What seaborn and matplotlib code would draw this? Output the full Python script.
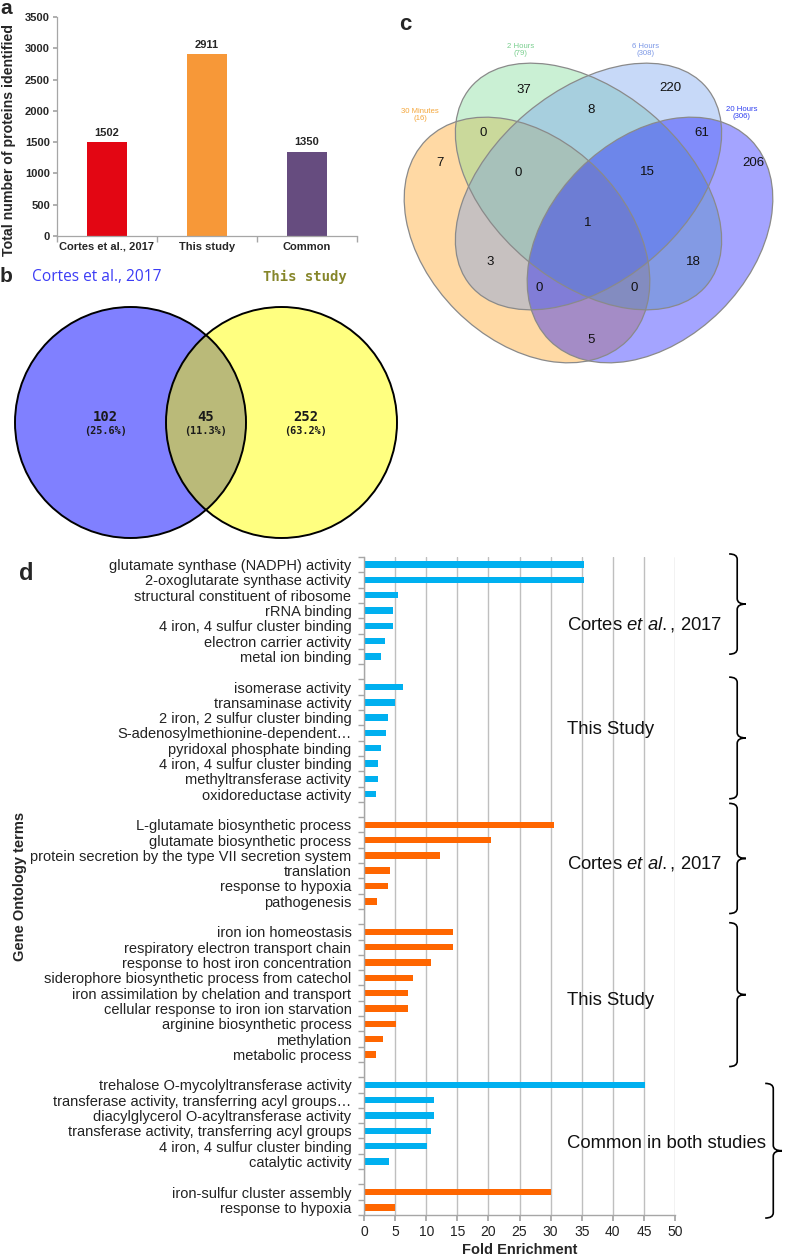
import numpy as np
import pandas as pd
import matplotlib
matplotlib.use("Agg")
import matplotlib.pyplot as plt
import matplotlib.patches as mpatches
from matplotlib.path import Path
import seaborn as sns

# ---------------- data ----------------
# panel a
a_categories = ["Cortes et al., 2017", "This study", "Common"]
a_values = [1502, 2911, 1350]
a_colors = ["#E30613", "#F79838", "#664C7F"]

# panel b
b_set_names = ["Cortes et al., 2017", "This study"]
b_counts = [102, 45, 252]
b_percents = [25.6, 11.3, 63.2]

# panel c
c_set_names = ["30 Minutes", "2 Hours", "6 Hours", "20 Hours"]
c_set_totals = [16, 79, 308, 306]
c_regions = ["A", "B", "C", "D", "AB", "BC", "CD", "ABC", "BCD", "ABCD",
             "AC", "BD", "ACD", "ABD", "AD"]
c_counts = [7, 37, 220, 206, 0, 8, 61, 0, 15, 1, 3, 18, 0, 0, 5]

# panel d
d_mf_cortes_terms = ["glutamate synthase (NADPH) activity", "2-oxoglutarate synthase activity",
                     "structural constituent of ribosome", "rRNA binding",
                     "4 iron, 4 sulfur cluster binding", "electron carrier activity",
                     "metal ion binding"]
d_mf_cortes_values = [35.4, 35.4, 5.5, 4.6, 4.6, 3.4, 2.7]
d_mf_this_terms = ["isomerase activity", "transaminase activity", "2 iron, 2 sulfur cluster binding",
                   "S-adenosylmethionine-dependent\u2026", "pyridoxal phosphate binding",
                   "4 iron, 4 sulfur cluster binding", "methyltransferase activity",
                   "oxidoreductase activity"]
d_mf_this_values = [6.2, 5.0, 3.8, 3.6, 2.8, 2.2, 2.2, 1.9]
d_bp_cortes_terms = ["L-glutamate biosynthetic process", "glutamate biosynthetic process",
                     "protein secretion by the type VII secretion system", "translation",
                     "response to hypoxia", "pathogenesis"]
d_bp_cortes_values = [30.5, 20.4, 12.2, 4.1, 3.8, 2.1]
d_bp_this_terms = ["iron ion homeostasis", "respiratory electron transport chain",
                   "response to host iron concentration",
                   "siderophore biosynthetic process from catechol",
                   "iron assimilation by chelation and transport",
                   "cellular response to iron ion starvation", "arginine biosynthetic process",
                   "methylation", "metabolic process"]
d_bp_this_values = [14.3, 14.3, 10.7, 7.9, 7.1, 7.1, 5.1, 3.1, 1.9]
d_mf_common_terms = ["trehalose O-mycolyltransferase activity",
                     "transferase activity, transferring acyl groups\u2026",
                     "diacylglycerol O-acyltransferase activity",
                     "transferase activity, transferring acyl groups",
                     "4 iron, 4 sulfur cluster binding", "catalytic activity"]
d_mf_common_values = [45.1, 11.3, 11.3, 10.8, 10.1, 4.0]
d_bp_common_terms = ["iron-sulfur cluster assembly", "response to hypoxia"]
d_bp_common_values = [30.0, 5.0]
d_group_labels = [r"Cortes $\it{et\ al.}$, 2017", "This Study",
                  r"Cortes $\it{et\ al.}$, 2017", "This Study", "Common in both studies"]

# ---------------- style ----------------
sns.set_theme(style="white")
plt.rcParams["font.family"] = ["Liberation Sans", "DejaVu Sans"]
plt.rcParams["mathtext.fontset"] = "custom"
plt.rcParams["mathtext.rm"] = "Liberation Sans"
plt.rcParams["mathtext.it"] = "Liberation Sans:italic"

W, H = 788, 1258
fig = plt.figure(figsize=(W / 100, H / 100), dpi=100)


def px_axes(x0, y0, x1, y1):
    return fig.add_axes([x0 / W, 1 - y1 / H, (x1 - x0) / W, (y1 - y0) / H])


ov = fig.add_axes([0, 0, 1, 1])
ov.set_xlim(0, W)
ov.set_ylim(H, 0)
ov.axis("off")

GREY = "#A6A6A6"

# ---------------- panel a ----------------
ax_a = px_axes(57, 17, 357, 236)
df_a = pd.DataFrame({"study": a_categories, "n": a_values})
sns.barplot(data=df_a, x="study", y="n", hue="study", palette=a_colors, width=0.4,
            saturation=1, legend=False, linewidth=0, ax=ax_a)
ax_a.set_ylim(0, 3500)
ax_a.set_xlim(-0.5, 2.5)
ax_a.set_yticks(range(0, 3501, 500))
for c in ax_a.containers:
    ax_a.bar_label(c, fmt="%d", padding=3, fontsize=8, fontweight="bold")
sns.despine(ax=ax_a)
for s in ["left", "bottom"]:
    ax_a.spines[s].set_color(GREY)
    ax_a.spines[s].set_linewidth(0.9)
ax_a.tick_params(axis="y", length=3, color=GREY, labelsize=8, pad=2, left=True)
ax_a.tick_params(axis="x", which="major", length=0, labelsize=8, pad=4)
ax_a.set_xticks([-0.5, 0.5, 1.5, 2.5], minor=True)
ax_a.tick_params(axis="x", which="minor", length=4, color=GREY, bottom=True)
for t in ax_a.get_xticklabels() + ax_a.get_yticklabels():
    t.set_fontweight("bold")
ax_a.set_xlabel("")
ax_a.set_ylabel("Total number of proteins identified", fontsize=10.2, fontweight="bold")
ax_a.yaxis.set_label_coords(-0.135, 0.44)

# ---------------- panel b ----------------
r = 115.5
lc, rc = (130.5, 422.5), (281.5, 422.5)
ov.add_patch(mpatches.Circle(lc, r, fc="#8080FF", ec="none"))
ov.add_patch(mpatches.Circle(rc, r, fc="#FFFF80", ec="none"))
overlap = mpatches.Circle(rc, r, fc="#BABA79", ec="none")
ov.add_patch(overlap)
clip = mpatches.Circle(lc, r, transform=ov.transData)
overlap.set_clip_path(clip)
ov.add_patch(mpatches.Circle(lc, r, fill=False, ec="black", lw=1.4))
ov.add_patch(mpatches.Circle(rc, r, fill=False, ec="black", lw=1.4))
b_xpos = [105.5, 205.5, 306]
for x, n, p in zip(b_xpos, b_counts, b_percents):
    ov.text(x, 417, f"{n}", ha="center", va="center", fontsize=10,
            fontweight="bold", family="DejaVu Sans Mono", color="#1a1a1a")
    ov.text(x, 430.5, f"({p:.1f}%)", ha="center", va="center", fontsize=7.3,
            fontweight="bold", family="DejaVu Sans Mono", color="#1a1a1a")
ov.text(32, 277, b_set_names[0], ha="left", va="center", fontsize=11.2,
        family="Open Sans", color="#3C3CF5")
ov.text(263, 277, b_set_names[1], ha="left", va="center", fontsize=10,
        family="DejaVu Sans Mono", fontweight="bold", color="#86862A")

# ---------------- panel c ----------------
c_geom = [(527, 240, 284, 200, 45), (588.5, 186.5, 308, 192, 40),
          (588.5, 186.5, 308, 192, -40), (650, 240, 284, 200, -45)]
c_fills = ["#FF9D11", "#75D98E", "#6E9BEF", "#1010FF"]
for (cx, cy, w, h, ang), fc in zip(c_geom, c_fills):
    ov.add_patch(mpatches.Ellipse((cx, cy), w, h, angle=ang, fc=fc, alpha=0.38, ec="none"))
for (cx, cy, w, h, ang) in c_geom:
    ov.add_patch(mpatches.Ellipse((cx, cy), w, h, angle=ang, fill=False, ec="#8A8A8A", lw=0.9))
c_pos = {"A": (440, 163), "B": (524, 90), "C": (670, 88), "D": (753, 163),
         "AB": (483, 133), "BC": (591, 110), "CD": (702, 133), "ABC": (518, 173),
         "BCD": (647, 172), "ABCD": (588, 223), "AC": (490, 262), "BD": (693, 262),
         "ACD": (539, 288), "ABD": (634, 288), "AD": (591, 340)}
for k, n in zip(c_regions, c_counts):
    x, y = c_pos[k]
    ov.text(x, y, f"{n}", ha="center", va="center", fontsize=9.5, color="#111111")
c_label_pos = [(420, 115), (521, 50), (646, 50), (742, 113)]
c_label_cols = ["#F4A63A", "#7ACF8F", "#7C98E6", "#2F3FF0"]
for (x, y), name, tot, col in zip(c_label_pos, c_set_names, c_set_totals, c_label_cols):
    ov.text(x, y, f"{name}\n({tot})", ha="center", va="center", fontsize=5.6,
            color=col, linespacing=1.05)

# ---------------- panel d ----------------
groups = [(d_mf_cortes_terms, d_mf_cortes_values, "MF"),
          (d_mf_this_terms, d_mf_this_values, "MF"),
          (d_bp_cortes_terms, d_bp_cortes_values, "BP"),
          (d_bp_this_terms, d_bp_this_values, "BP"),
          (d_mf_common_terms, d_mf_common_values, "MF"),
          (d_bp_common_terms, d_bp_common_values, "BP")]
rows = []
for gi, (terms, vals, kind) in enumerate(groups):
    if gi > 0:
        rows.append({"slot": f"r{len(rows)}", "term": "", "value": 0.0, "kind": kind})
    for t, v in zip(terms, vals):
        rows.append({"slot": f"r{len(rows)}", "term": t, "value": v, "kind": kind})
df_d = pd.DataFrame(rows)
n_rows = len(df_d)

ax_d = px_axes(364, 557, 675, 1215)
sns.barplot(data=df_d, x="value", y="slot", hue="kind", order=list(df_d["slot"]),
            hue_order=["MF", "BP"], palette={"MF": "#00B0F0", "BP": "#FF6600"},
            dodge=False, width=0.42, saturation=1, errorbar=None, legend=False,
            linewidth=0, orient="y", ax=ax_d)
ax_d.set_xlim(0, 50)
ax_d.set_ylim(n_rows - 0.5, -0.5)
ax_d.set_xticks(range(0, 51, 5))
ax_d.set_yticks(range(n_rows))
ax_d.set_yticklabels(df_d["term"], fontsize=10.5, color="#222222")
ax_d.set_yticks(np.arange(-0.5, n_rows, 1.0), minor=True)
ax_d.tick_params(axis="y", which="major", length=0, pad=9)
ax_d.tick_params(axis="y", which="minor", length=4, color=GREY, left=True)
ax_d.tick_params(axis="x", length=4, color=GREY, labelsize=10, pad=3, bottom=True,
                 labelcolor="#222222")
ax_d.xaxis.grid(True, color="#BFBFBF", lw=1)
ax_d.yaxis.grid(False)
ax_d.set_axisbelow(True)
sns.despine(ax=ax_d)
for s in ["left", "bottom"]:
    ax_d.spines[s].set_color(GREY)
    ax_d.spines[s].set_linewidth(1)
ax_d.set_xlabel("Fold Enrichment", fontsize=10.5, fontweight="bold", labelpad=3)
ax_d.set_ylabel("Gene Ontology terms", fontsize=10.5, fontweight="bold")
ax_d.yaxis.set_label_coords(-1.085, 0.5)


def brace(ax, x, y0, y1, hook, tip, c=0.35):
    ym = (y0 + y1) / 2
    verts = [(x - hook, y0), (x, y0), (x, y0 + c),
             (x, ym - c), (x, ym), (x + tip, ym),
             (x + tip, ym), (x, ym), (x, ym + c),
             (x, y1 - c), (x, y1), (x - hook, y1)]
    codes = [Path.MOVETO, Path.CURVE3, Path.CURVE3,
             Path.LINETO, Path.CURVE3, Path.CURVE3,
             Path.MOVETO, Path.CURVE3, Path.CURVE3,
             Path.LINETO, Path.CURVE3, Path.CURVE3]
    ax.add_patch(mpatches.PathPatch(Path(verts, codes), fill=False, ec="black",
                                    lw=1.2, clip_on=False))


brace_spans = [(-0.7, 5.85, 60.0), (7.35, 15.3, 60.0), (15.6, 22.8, 60.0),
               (23.4, 32.8, 60.0), (33.9, 42.7, 65.8)]
for y0, y1, x in brace_spans:
    brace(ax_d, x, y0, y1, hook=1.3, tip=1.4)
label_rows = [3.94, 10.8, 19.5, 28.45, 37.8]
for lab, yr in zip(d_group_labels, label_rows):
    ax_d.text(32.6, yr, lab, ha="left", va="center", fontsize=13.3, color="#111111",
              clip_on=False)

# ---------------- panel letters ----------------
ov.text(0, 8, "a", ha="left", va="center", fontsize=15, fontweight="bold")
ov.text(0, 277, "b", ha="left", va="center", fontsize=15, fontweight="bold")
ov.text(399, 25, "c", ha="left", va="center", fontsize=16, fontweight="bold")
ov.text(19, 574, "d", ha="left", va="center", fontsize=17, fontweight="bold")

fig.savefig("out.png", dpi=100)
